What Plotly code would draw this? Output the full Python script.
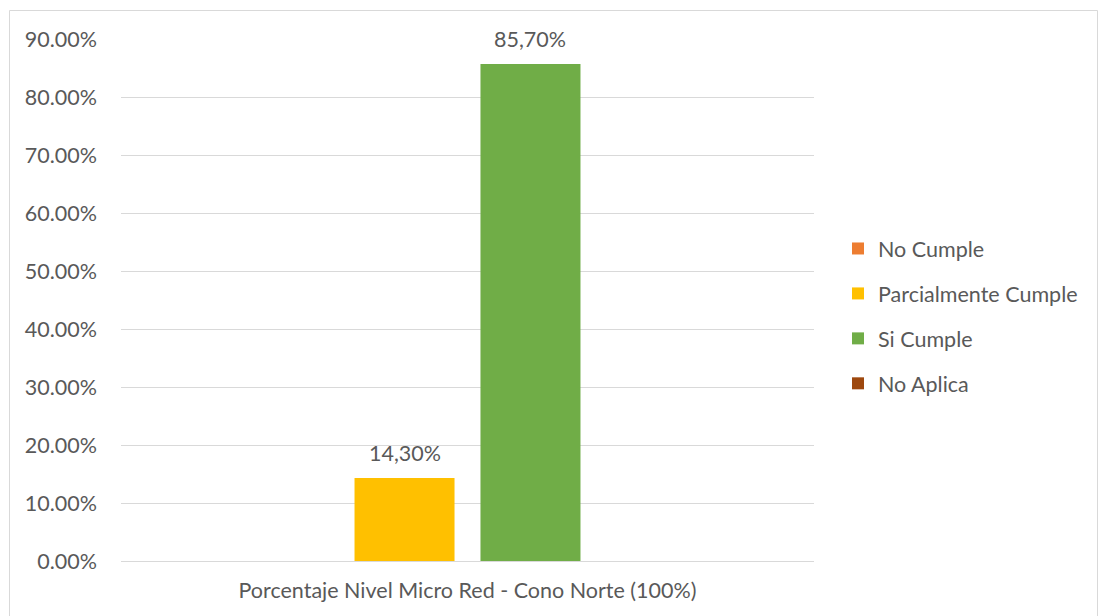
import plotly.graph_objects as go

# Chart data
categories = ["Porcentaje Nivel Micro Red - Cono Norte (100%)"]
series_names = ["No Cumple", "Parcialmente Cumple", "Si Cumple", "No Aplica"]
series_values = [[0.0], [14.3], [85.7], [0.0]]
series_labels = [[""], ["14,30%"], ["85,70%"], [""]]
series_colors = ["#ED7D31", "#FFC000", "#70AD47", "#9E480E"]
y_tick_values = [0, 10, 20, 30, 40, 50, 60, 70, 80, 90]
y_tick_labels = ["0.00%", "10.00%", "20.00%", "30.00%", "40.00%",
                 "50.00%", "60.00%", "70.00%", "80.00%", "90.00%"]

FONT = "Lato"
FSIZE = 21.5
TEXT_COLOR = "#595959"
BARGAP = 0.273
BARGROUPGAP = 0.206

# plot area spans x 121..814, y 39..561 in a 1099x616 page
L, R, T, B = 121, 1099 - 814, 39, 616 - 561
W = 1099 - L - R
H = 616 - T - B

def px_x(p):
    return (p - L) / W

def px_y(p):
    return (616 - B - p) / H

fig = go.Figure()
n_series = len(series_names)
slot_px = W * (1 - BARGAP) / n_series
annotations = []
for i, (name, vals, labels, color) in enumerate(
        zip(series_names, series_values, series_labels, series_colors)):
    fig.add_trace(go.Bar(
        x=categories,
        y=vals,
        name=name,
        marker=dict(color=color, line=dict(width=0)),
        legendgroup=f"g{i}",
    ))
    # value labels sit above each bar, centred on its slot in the group
    for cat, v, lab in zip(categories, vals, labels):
        if lab:
            annotations.append(dict(
                x=cat, y=v, xref="x", yref="y",
                text=lab, showarrow=False,
                xanchor="center", yanchor="bottom",
                xshift=(i - (n_series - 1) / 2) * slot_px,
                yshift=10,
                font=dict(family=FONT, size=FSIZE, color=TEXT_COLOR),
            ))

fig.update_layout(
    width=1099,
    height=616,
    margin=dict(l=L, r=R, t=T, b=B),
    paper_bgcolor="white",
    plot_bgcolor="white",
    barmode="group",
    bargap=BARGAP,
    bargroupgap=BARGROUPGAP,
    font=dict(family=FONT, size=FSIZE, color=TEXT_COLOR),
    showlegend=True,
    legend=dict(
        x=px_x(838), y=px_y(228), xanchor="left", yanchor="top",
        font=dict(family=FONT, size=FSIZE, color=TEXT_COLOR),
        tracegroupgap=14,
        bgcolor="rgba(0,0,0,0)",
    ),
    xaxis=dict(
        showgrid=False,
        showline=False,
        zeroline=False,
        ticks="",
        ticklabelstandoff=14,
        tickfont=dict(family=FONT, size=FSIZE, color=TEXT_COLOR),
    ),
    yaxis=dict(
        range=[0, 90],
        tickvals=y_tick_values,
        ticktext=y_tick_labels,
        showgrid=True,
        gridcolor="#D9D9D9",
        gridwidth=1,
        zeroline=True,
        zerolinecolor="#D9D9D9",
        zerolinewidth=1,
        showline=False,
        ticks="",
        ticklabelstandoff=23,
        tickfont=dict(family=FONT, size=FSIZE, color=TEXT_COLOR),
    ),
    annotations=annotations,
    shapes=[dict(
        type="rect", xref="paper", yref="paper",
        x0=px_x(9.5), x1=px_x(1097.5), y0=px_y(630), y1=px_y(10.5),
        line=dict(color="#D9D9D9", width=1), fillcolor="rgba(0,0,0,0)",
        layer="below",
    )],
)

fig.write_html("out.html")
